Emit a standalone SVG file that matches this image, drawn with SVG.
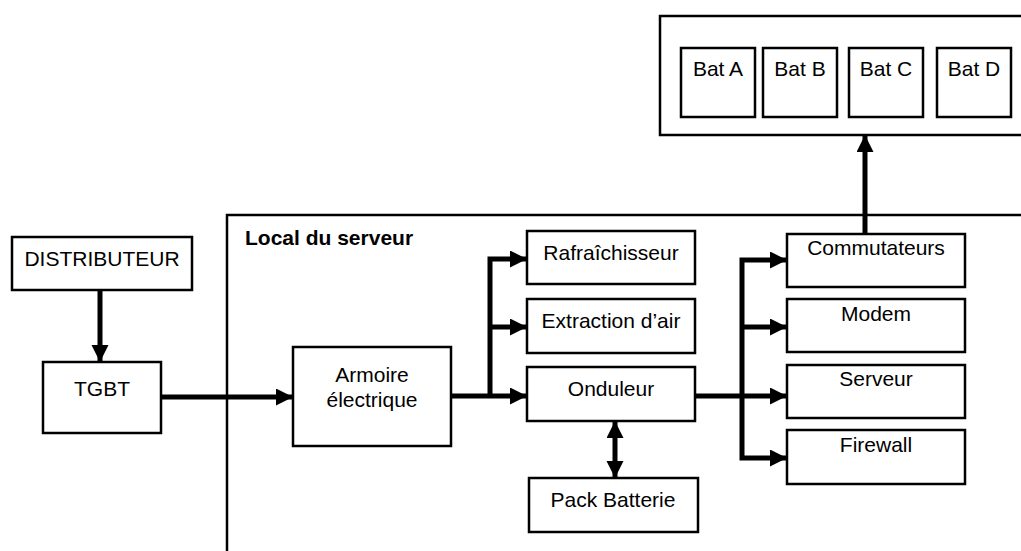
<svg xmlns="http://www.w3.org/2000/svg" width="1021" height="551" viewBox="0 0 1021 551">
<style>
.box{fill:#fff;stroke:#000;stroke-width:2.5}
.frame{fill:none;stroke:#000;stroke-width:2.5}
.t{font-family:"Liberation Sans",Arial,sans-serif;font-size:21px;fill:#000;text-anchor:middle}
.tb{font-family:"Liberation Sans",Arial,sans-serif;font-size:21px;font-weight:bold;fill:#000}
.c{fill:none;stroke:#000;stroke-width:5}
</style>
<defs>
<marker id="ah" markerUnits="userSpaceOnUse" markerWidth="18" markerHeight="18" refX="17" refY="8.5" orient="auto-start-reverse">
<path d="M0,0 L17,8.5 L0,17 z" fill="#000"/>
</marker>
</defs>
<rect width="1021" height="551" fill="#fff"/>
<g id="batiments">
<path class="frame" d="M1025,16 H660 V135 H1025"/>
</g>
<g id="bat-a"><rect class="box" x="681" y="48" width="74" height="69"/><text class="t" x="718" y="76">Bat A</text></g>
<g id="bat-b"><rect class="box" x="763" y="48" width="74" height="69"/><text class="t" x="800" y="76">Bat B</text></g>
<g id="bat-c"><rect class="box" x="849" y="48" width="74" height="69"/><text class="t" x="886" y="76">Bat C</text></g>
<g id="bat-d"><rect class="box" x="937" y="48" width="74" height="69"/><text class="t" x="974" y="76">Bat D</text></g>
<g id="local">
<path class="frame" d="M227,555 V215 H1025"/>
<text class="tb" x="245" y="245">Local du serveur</text>
</g>
<g id="distributeur"><rect class="box" x="12" y="237" width="180" height="53"/><text class="t" x="102" y="266">DISTRIBUTEUR</text></g>
<g id="tgbt"><rect class="box" x="43" y="362" width="118" height="71"/><text class="t" x="102" y="396">TGBT</text></g>
<g id="armoire"><rect class="box" x="293" y="347" width="158" height="99"/><text class="t" x="372" y="382">Armoire</text><text class="t" x="372" y="407">électrique</text></g>
<g id="rafraichisseur"><rect class="box" x="527" y="231" width="168" height="53"/><text class="t" x="611" y="260">Rafraîchisseur</text></g>
<g id="extraction"><rect class="box" x="527" y="299" width="168" height="54"/><text class="t" x="611" y="328">Extraction d’air</text></g>
<g id="onduleur"><rect class="box" x="527" y="367" width="168" height="54"/><text class="t" x="611" y="396">Onduleur</text></g>
<g id="pack-batterie"><rect class="box" x="529" y="478" width="169" height="54"/><text class="t" x="613" y="507">Pack Batterie</text></g>
<g id="commutateurs"><rect class="box" x="787" y="234" width="178" height="53"/><text class="t" x="876" y="255">Commutateurs</text></g>
<g id="modem"><rect class="box" x="787" y="299" width="178" height="53"/><text class="t" x="876" y="321">Modem</text></g>
<g id="serveur"><rect class="box" x="787" y="365" width="178" height="53"/><text class="t" x="876" y="386">Serveur</text></g>
<g id="firewall"><rect class="box" x="787" y="430" width="178" height="54"/><text class="t" x="876" y="452">Firewall</text></g>
<g id="connectors">
<path class="c" d="M100,290 V362" marker-end="url(#ah)"/>
<path class="c" d="M161,397 H293" marker-end="url(#ah)"/>
<path class="c" d="M451,396 H527" marker-end="url(#ah)"/>
<path class="c" d="M490,396 V259 H527" marker-end="url(#ah)"/>
<path class="c" d="M490,327 H527" marker-end="url(#ah)"/>
<path class="c" d="M615,421 V478" marker-start="url(#ah)" marker-end="url(#ah)"/>
<path class="c" d="M695,396 H787" marker-end="url(#ah)"/>
<path class="c" d="M742,396 V260 H787" marker-end="url(#ah)"/>
<path class="c" d="M742,327 H787" marker-end="url(#ah)"/>
<path class="c" d="M742,396 V458 H787" marker-end="url(#ah)"/>
<path class="c" d="M865,234 V135" marker-end="url(#ah)"/>
</g>
</svg>
